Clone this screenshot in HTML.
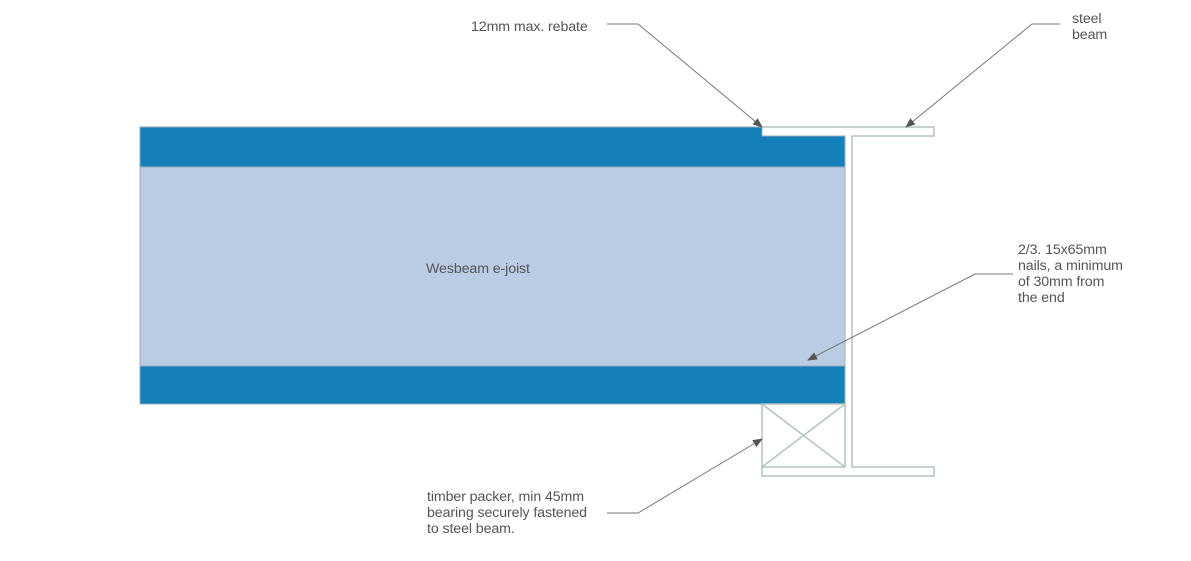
<!DOCTYPE html>
<html><head><style>
body{margin:0;background:#fff;}
svg{display:block;font-family:"Liberation Sans",sans-serif;font-size:14.2px;fill:#555;letter-spacing:-0.1px;}
</style></head><body>
<svg width="1191" height="561" viewBox="0 0 1191 561" xmlns="http://www.w3.org/2000/svg">
<defs><marker id="a" markerWidth="10" markerHeight="8" refX="9" refY="4" orient="auto" markerUnits="userSpaceOnUse"><path d="M0,0 L10,4 L0,8 Z" fill="#555"/></marker></defs>
<rect x="140" y="167" width="705" height="199" fill="#b9cce3" stroke="#aab" stroke-width="1"/>
<path d="M140,127 H762 V136 H845 V167 H140 Z" fill="#157fba" stroke="#9ab" stroke-width="1"/>
<rect x="140" y="366" width="705" height="38" fill="#157fba" stroke="#9ab" stroke-width="1"/>
<g fill="none" stroke="#b4c4c0" stroke-width="1.5">
<path d="M762,127 H934 V136 H852 V467 H934 V476 H762 V467"/>
<rect x="762" y="404" width="83" height="63"/>
<path d="M762,404 L845,467 M845,404 L762,467"/>
</g>
<g fill="none" stroke="#777" stroke-width="1">
<path d="M607,24 H638 L762,127" marker-end="url(#a)"/>
<path d="M1060,24 H1032 L906,127" marker-end="url(#a)"/>
<path d="M1013,274 H975 L808,360" marker-end="url(#a)"/>
<path d="M607,513 H638 L762,439" marker-end="url(#a)"/>
</g>
<text x="471" y="31">12mm max. rebate</text>
<text x="1072" y="23">steel</text>
<text x="1072" y="39">beam</text>
<text x="1018" y="254">2/3. 15x65mm</text>
<text x="1018" y="270">nails, a minimum</text>
<text x="1018" y="286">of 30mm from</text>
<text x="1018" y="302">the end</text>
<text x="426" y="273">Wesbeam e-joist</text>
<text x="427" y="501">timber packer, min 45mm</text>
<text x="427" y="517">bearing securely fastened</text>
<text x="427" y="533">to steel beam.</text>
</svg>
</body></html>
